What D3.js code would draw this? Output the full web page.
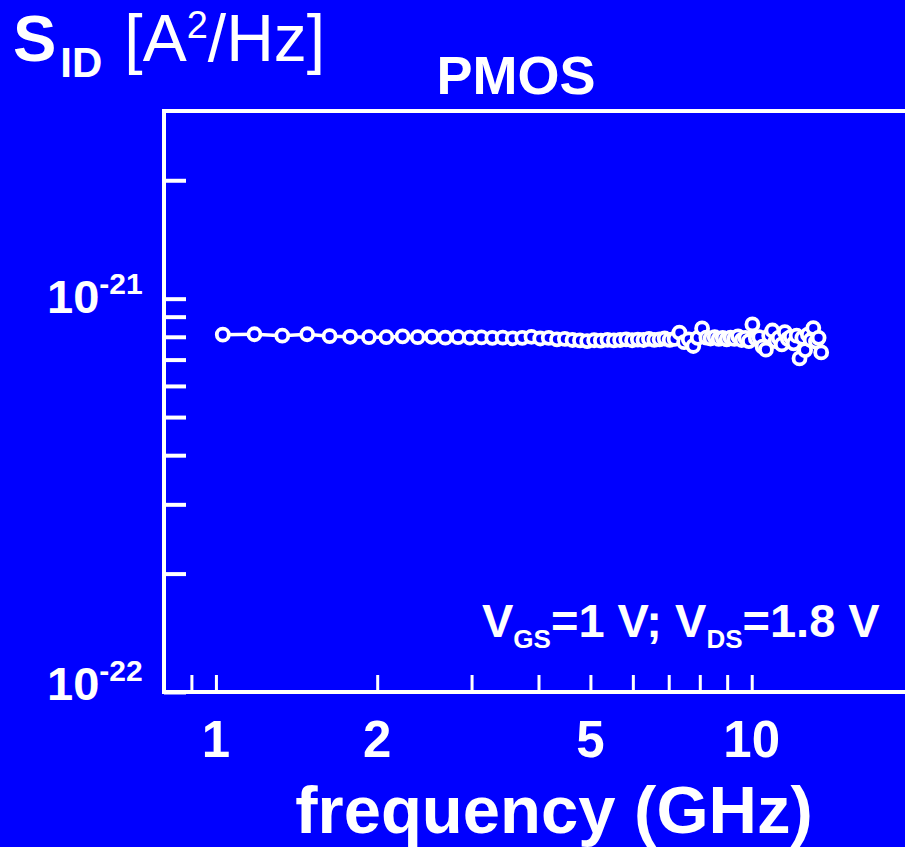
<!DOCTYPE html>
<html><head><meta charset="utf-8">
<script src="https://cdn.jsdelivr.net/npm/d3@7"></script>
<style>html,body{margin:0;padding:0;background:#0000FF;overflow:hidden}</style>
</head><body>
<script>
// frequency (GHz)
const freq = [1.03,1.18,1.33,1.48,1.63,1.78,1.93,2.08,2.23,2.38,2.53,2.68,2.83,2.98,3.13,3.28,3.43,3.58,3.73,3.88,
4.03,4.18,4.33,4.48,4.63,4.78,4.93,5.08,5.23,5.38,5.53,5.68,5.83,5.98,6.13,6.28,6.43,6.58,6.73,6.88,
7.03,7.18,7.33,7.48,7.63,7.78,7.93,8.08,8.23,8.38,8.53,8.68,8.83,8.98,9.13,9.28,9.43,9.58,9.73,9.88,
10.03,10.18,10.33,10.48,10.63,10.78,10.93,11.08,11.23,11.38,11.53,11.68,11.83,11.98,12.13,12.28,12.43,12.58,12.73,12.88,
13.03,13.18,13.33,13.48];
// S_ID in units of 1e-22 A^2/Hz
const sid = [8.10,8.12,8.05,8.12,8.03,8.00,7.98,7.98,8.02,7.98,8.00,7.96,7.98,7.96,7.97,7.95,7.96,7.93,7.95,8.00,
7.92,7.95,7.88,7.90,7.85,7.83,7.80,7.84,7.82,7.86,7.83,7.85,7.88,7.84,7.87,7.85,7.90,7.86,7.88,7.92,
7.86,7.90,8.20,7.75,7.88,7.58,7.95,8.40,7.96,7.92,7.98,7.90,7.95,7.88,7.96,7.90,8.02,7.85,7.95,7.80,
8.60,7.92,7.98,7.55,7.42,8.05,8.30,7.80,7.95,7.65,8.22,7.90,8.00,7.70,8.05,7.05,7.95,7.40,8.10,7.85,
8.42,7.78,7.95,7.30];
const xTickLabels = [1,2,5,10];
const xMinorTicks = [0.9,1,2,3,4,5,6,7,8,9,10];
const yMajorExp = [-22,-21];
const yMinorTicks = [1e-22,2e-22,3e-22,4e-22,5e-22,6e-22,7e-22,8e-22,9e-22,1e-21,2e-21];
const titleText = "PMOS";
const xTitle = "frequency (GHz)";

const W = 905, H = 847;
const FONT = "'Liberation Sans', Arial, Helvetica, sans-serif";
const svg = d3.select("body").append("svg").attr("width", W).attr("height", H)
  .style("font-family", FONT);
svg.append("rect").attr("width", W).attr("height", H).attr("fill", "#0000FF");

const x = d3.scaleLog().domain([0.8, 20]).range([164, 913]);
const y = d3.scaleLog().domain([1e-22, 3e-21]).range([692, 111]);

const data = freq.map((f, i) => ({f, v: sid[i] * 1e-22}));

// frame
svg.append("rect").attr("x", x.range()[0]).attr("y", y.range()[1])
  .attr("width", x.range()[1] - x.range()[0]).attr("height", y.range()[0] - y.range()[1])
  .attr("fill", "none").attr("stroke", "#fff").attr("stroke-width", 4);

// y ticks (inward)
const yAxis = d3.axisRight(y).tickValues(yMinorTicks).tickSize(22).tickFormat("");
const gy = svg.append("g").attr("transform", `translate(${x.range()[0]},0)`).call(yAxis);
gy.select(".domain").remove();
gy.selectAll("line").attr("stroke", "#fff").attr("stroke-width", 4);

// x ticks (inward)
const xAxis = d3.axisTop(x).tickValues(xMinorTicks).tickSize(17).tickFormat("");
const gx = svg.append("g").attr("transform", `translate(0,${y.range()[0]})`).call(xAxis);
gx.select(".domain").remove();
gx.selectAll("line").attr("stroke", "#fff").attr("stroke-width", 3);

// x tick labels
svg.append("g").selectAll("text").data(xTickLabels).join("text")
  .attr("x", d => x(d)).attr("y", 757)
  .attr("text-anchor", "middle").attr("fill", "#fff")
  .attr("font-weight", "bold").attr("font-size", 51)
  .text(d => d);

// y tick labels 10^n
const yl = svg.append("g").selectAll("text").data(yMajorExp).join("text")
  .attr("x", 47).attr("y", d => d === -22 ? 700 : y(Math.pow(10, d)) + 14)
  .attr("fill", "#fff").attr("font-weight", "bold");
yl.append("tspan").attr("font-size", 47).text("10");
yl.append("tspan").attr("font-size", 30).attr("dy", -19).text(d => String(d));

// line + markers
svg.append("path").datum(data)
  .attr("d", d3.line().x(d => x(d.f)).y(d => y(d.v)))
  .attr("fill", "none").attr("stroke", "#fff").attr("stroke-width", 3.5);
svg.append("g").selectAll("circle").data(data).join("circle")
  .attr("cx", d => x(d.f)).attr("cy", d => y(d.v)).attr("r", 6)
  .attr("fill", "#0000FF").attr("stroke", "#fff").attr("stroke-width", 3.8);

// title
svg.append("text").attr("x", 516).attr("y", 94).attr("text-anchor", "middle")
  .attr("fill", "#fff").attr("font-weight", "bold").attr("font-size", 54).text(titleText);

// x title
svg.append("text").attr("x", 554).attr("y", 833).attr("text-anchor", "middle")
  .attr("fill", "#fff").attr("font-weight", "bold").attr("font-size", 67).text(xTitle);

// y title: S_ID [A^2/Hz]
const yt = svg.append("text").attr("x", 13).attr("y", 61).attr("fill", "#fff");
yt.append("tspan").attr("font-weight", "bold").attr("font-size", 65).text("S");
yt.append("tspan").attr("font-weight", "bold").attr("font-size", 42).attr("dy", 16).attr("dx", 4).text("ID");
yt.append("tspan").attr("font-size", 66).attr("dy", -16).attr("dx", 22).text("[A");
yt.append("tspan").attr("font-size", 38).attr("dy", -23).text("2");
yt.append("tspan").attr("font-size", 66).attr("dy", 23).text("/Hz]");

// annotation
const an = svg.append("text").attr("x", 482).attr("y", 637).attr("fill", "#fff").attr("font-weight", "bold");
an.append("tspan").attr("font-size", 47).text("V");
an.append("tspan").attr("font-size", 26).attr("dy", 11).text("GS");
an.append("tspan").attr("font-size", 47).attr("dy", -11).text("=1 V; V");
an.append("tspan").attr("font-size", 26).attr("dy", 11).text("DS");
an.append("tspan").attr("font-size", 47).attr("dy", -11).text("=1.8 V");
</script>
</body></html>
